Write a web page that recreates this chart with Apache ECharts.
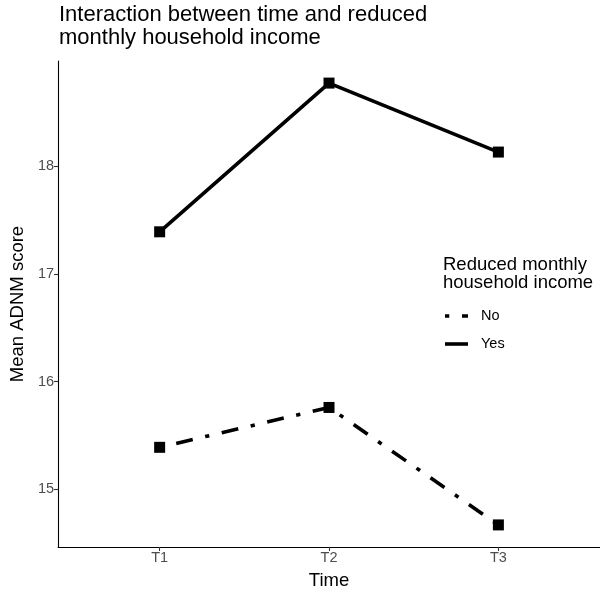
<!DOCTYPE html>
<html>
<head>
<meta charset="utf-8">
<script src="https://cdn.jsdelivr.net/npm/echarts@6/dist/echarts.min.js"></script>
<style>html,body{margin:0;padding:0;background:#fff}#c{width:600px;height:595px}</style>
</head>
<body>
<div id="c"></div>
<script>
const categories = ['T1', 'T2', 'T3'];
const incomeNo = [15.39, 15.76, 14.67];
const incomeYes = [17.39, 18.77, 18.13];
const yTicks = [15, 16, 17, 18];
const groups = ['No', 'Yes'];

const FONT = '"Liberation Sans", Arial, Helvetica, sans-serif';
const toXY = vals => vals.map((v, i) => [i + 1, v]);
const dashNo = [4.25, 12.75, 17, 12.75];

const chart = echarts.init(document.getElementById('c'), null, {renderer: 'canvas'});
chart.setOption({
  animation: false,
  backgroundColor: '#fff',
  title: {
    text: 'Interaction between time and reduced\nmonthly household income',
    left: 59, top: 3, padding: 0,
    textStyle: {fontFamily: FONT, fontSize: 22, fontWeight: 'normal', color: '#000', lineHeight: 23.5}
  },
  grid: {left: 58, right: 0, top: 61, bottom: 43, containLabel: false},
  xAxis: {
    type: 'value', min: 0.4, max: 3.6,
    name: 'Time', nameLocation: 'middle', nameGap: 24,
    nameTextStyle: {fontFamily: FONT, fontSize: 18.5, color: '#000'},
    axisLine: {show: true, lineStyle: {color: '#000', width: 1.1}},
    axisTick: {show: true, length: 4, lineStyle: {color: '#333', width: 1.1}, customValues: [1, 2, 3]},
    axisLabel: {fontFamily: FONT, fontSize: 14.5, color: '#4d4d4d', margin: 3.5, customValues: [1, 2, 3],
      formatter: v => categories[Math.round(v) - 1] || ''},
    splitLine: {show: false}
  },
  yAxis: {
    type: 'value', min: 14.465, max: 18.975,
    name: 'Mean ADNM score', nameLocation: 'middle', nameGap: 30, nameRotate: 90,
    nameTextStyle: {fontFamily: FONT, fontSize: 18.5, color: '#000'},
    axisLine: {show: true, lineStyle: {color: '#000', width: 1.1}},
    axisTick: {show: true, length: 4, lineStyle: {color: '#333', width: 1.1}, customValues: yTicks},
    axisLabel: {fontFamily: FONT, fontSize: 14.5, color: '#4d4d4d', margin: 4, customValues: yTicks},
    splitLine: {show: false}
  },
  series: [
    {
      name: groups[0], type: 'line', data: toXY(incomeNo),
      symbol: 'rect', symbolSize: 11,
      itemStyle: {color: '#000'},
      lineStyle: {color: '#000', width: 3.6, type: dashNo, cap: 'butt'}
    },
    {
      name: groups[1], type: 'line', data: toXY(incomeYes),
      symbol: 'rect', symbolSize: 11,
      itemStyle: {color: '#000'},
      lineStyle: {color: '#000', width: 3.6, type: 'solid', cap: 'butt'}
    }
  ],
  graphic: [
    {type: 'text', x: 443, y: 255.5,
      style: {text: 'Reduced monthly\nhousehold income', font: '18.5px ' + FONT, fill: '#000', lineHeight: 18}},
    {type: 'line', shape: {x1: 445, y1: 316, x2: 468, y2: 316},
      style: {stroke: '#000', lineWidth: 3.6, lineDash: dashNo, lineCap: 'butt'}},
    {type: 'text', x: 481, y: 316,
      style: {text: groups[0], font: '14.5px ' + FONT, fill: '#000', verticalAlign: 'middle'}},
    {type: 'line', shape: {x1: 445, y1: 344, x2: 468, y2: 344},
      style: {stroke: '#000', lineWidth: 3.6, lineCap: 'butt'}},
    {type: 'text', x: 481, y: 344,
      style: {text: groups[1], font: '14.5px ' + FONT, fill: '#000', verticalAlign: 'middle'}}
  ]
});
</script>
</body>
</html>
